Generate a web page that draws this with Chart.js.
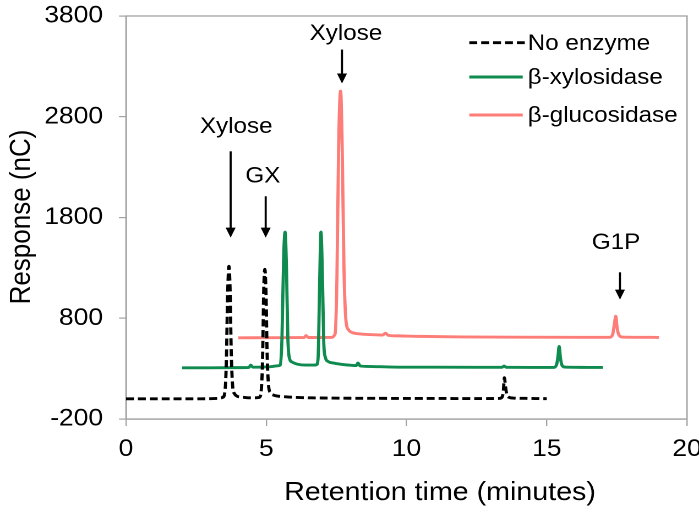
<!DOCTYPE html>
<html><head><meta charset="utf-8">
<script src="https://cdn.jsdelivr.net/npm/chart.js@4.4.0/dist/chart.umd.min.js"></script>
<style>html,body{margin:0;padding:0;background:#fff;overflow:hidden}
#c{display:block;width:699px;height:512px}</style>
</head><body>
<canvas id="c" width="635" height="512" style="width:699px;height:512px"></canvas>
<script>
// ---- data ----
const seriesNames = ['No enzyme', 'β-xylosidase', 'β-glucosidase'];

const noEnzymeTime = [0,0.5,1,1.5,2,2.5,3,3.3,3.45,3.53,3.58,3.62,3.67,3.71,3.75,3.8,3.87,3.95,4.1,4.3,4.55,4.75,4.82,4.87,4.91,4.95,4.99,5.03,5.08,5.15,5.25,5.4,5.7,6.1,6.6,7.2,8,9,10,11,12,12.8,13.3,13.4,13.45,13.49,13.53,13.58,13.66,13.8,14.2,14.6,15];
const noEnzymeResponse = [0,0,0,0,0,0,2,5,15,80,400,1000,1315,1080,480,130,50,28,18,12,10,14,80,420,1080,1285,1060,460,140,60,38,28,20,14,10,8,6,5,4,4,3,3,4,15,70,210,120,40,15,8,5,3,2];

const xylosidaseTime = [2,3,4,4.38,4.45,4.52,4.9,5.2,5.4,5.5,5.56,5.62,5.67,5.72,5.77,5.83,5.92,6.1,6.4,6.7,6.8,6.85,6.9,6.95,7.0,7.05,7.11,7.2,7.4,7.7,8.05,8.2,8.27,8.35,8.6,9.5,11,12.5,13.4,13.48,13.56,14.5,15.25,15.35,15.4,15.44,15.49,15.55,15.65,16,16.5,17];
const xylosidaseResponse = [308,308,310,312,335,314,316,320,328,335,600,1400,1655,1300,600,400,365,345,335,335,340,420,1100,1655,1250,560,410,372,355,342,333,330,355,326,322,316,314,313,313,325,313,312,312,340,420,520,400,330,315,313,312,312];

const glucosidaseTime = [4,5,6,6.35,6.42,6.5,7,7.3,7.45,7.52,7.58,7.65,7.71,7.77,7.84,7.92,8.05,8.3,8.7,9.15,9.25,9.35,9.7,10.5,12,14,16,17.25,17.35,17.41,17.46,17.51,17.58,17.7,18.2,19];
const glucosidaseResponse = [606,607,608,609,628,609,609,610,640,1200,2500,3055,2450,1300,780,690,660,645,638,633,652,630,625,620,615,612,611,611,640,740,820,700,630,613,611,610];

const xTicks = [0, 5, 10, 15, 20];
const yTicks = [-200, 800, 1800, 2800, 3800];
const xTitle = 'Retention time (minutes)';
const yTitle = 'Response (nC)';

// ---- annotations (label text + anchor in data units) ----
const annotationLabels = ['Xylose', 'GX', 'Xylose', 'G1P'];
const annotationLayout = [
  {tx: 3.93, ty: 2700, ax: 3.73, from: 2457, to: 1600},
  {tx: 4.88, ty: 2210, ax: 4.98, from: 2011, to: 1600},
  {tx: 7.84, ty: 3620, ax: 7.70, from: 3467, to: 3130},
  {tx: 17.47, ty: 1550, ax: 17.61, from: 1256, to: 985}
];

// ---- styling ----
const CW = 635;
const SX = 699 / CW;           // horizontal stretch of the reference picture
const GRAY = '#a3a3a3';
const FONT = '"Liberation Sans", Arial, Helvetica, sans-serif';
const colors = ['#000000', '#0f8b4f', '#fd7d78'];
const dashes = [[7.2, 3.6], [], []];

const toXY = (t, v) => t.map((x, i) => ({x: x, y: v[i]}));
const seriesData = [
  toXY(noEnzymeTime, noEnzymeResponse),
  toXY(xylosidaseTime, xylosidaseResponse),
  toXY(glucosidaseTime, glucosidaseResponse)
];

const boxPlugin = {
  id: 'box',
  beforeDatasetsDraw(chart) {
    const {ctx, chartArea: a} = chart;
    ctx.save();
    ctx.strokeStyle = GRAY;
    ctx.lineWidth = 1.3;
    ctx.strokeRect(a.left, a.top, a.right - a.left, a.bottom - a.top);
    ctx.restore();
  }
};

const titlePlugin = {
  id: 'axisTitles',
  afterDraw(chart) {
    const {ctx} = chart;
    ctx.save();
    ctx.fillStyle = '#000';
    ctx.font = '26px ' + FONT;
    ctx.textAlign = 'center';
    ctx.textBaseline = 'middle';
    ctx.fillText(xTitle, 440 / SX, 493);
    ctx.translate(22 / SX, 217);
    ctx.rotate(-Math.PI / 2);
    ctx.fillText(yTitle, 0, 0);
    ctx.restore();
  }
};

const annotationPlugin = {
  id: 'arrows',
  afterDatasetsDraw(chart) {
    const {ctx} = chart;
    const xs = chart.scales.x, ys = chart.scales.y;
    ctx.save();
    ctx.fillStyle = '#000';
    ctx.strokeStyle = '#000';
    ctx.font = '22px ' + FONT;
    ctx.textAlign = 'center';
    ctx.textBaseline = 'middle';
    annotationLayout.forEach((a, i) => {
      ctx.fillText(annotationLabels[i], xs.getPixelForValue(a.tx), ys.getPixelForValue(a.ty));
      const x = xs.getPixelForValue(a.ax);
      const y0 = ys.getPixelForValue(a.from);
      const y1 = ys.getPixelForValue(a.to);
      const hh = 10, hw = 5 / SX;
      ctx.lineWidth = 1.9;
      ctx.beginPath();
      ctx.moveTo(x, y0);
      ctx.lineTo(x, y1 - hh + 1);
      ctx.stroke();
      ctx.beginPath();
      ctx.moveTo(x - hw, y1 - hh);
      ctx.lineTo(x + hw, y1 - hh);
      ctx.lineTo(x, y1);
      ctx.closePath();
      ctx.fill();
    });
    ctx.restore();
  }
};

const legendPlugin = {
  id: 'customLegend',
  afterDraw(chart) {
    const {ctx} = chart;
    const rows = [42.7, 77, 115];
    const x0 = 469.3 / SX, x1 = 522.7 / SX, tx = 527.7 / SX;
    ctx.save();
    ctx.font = '22px ' + FONT;
    ctx.textAlign = 'left';
    ctx.textBaseline = 'middle';
    chart.data.datasets.forEach((ds, i) => {
      ctx.strokeStyle = ds.borderColor;
      ctx.lineWidth = ds.borderWidth;
      ctx.setLineDash(ds.borderDash || []);
      ctx.beginPath();
      ctx.moveTo(x0, rows[i]);
      ctx.lineTo(i === 0 ? x1 + 3 / SX : x1, rows[i]);
      ctx.stroke();
      ctx.setLineDash([]);
      ctx.fillStyle = '#000';
      ctx.fillText(ds.label, tx, rows[i] + 1);
    });
    ctx.restore();
  }
};

new Chart(document.getElementById('c'), {
  type: 'line',
  data: {
    datasets: seriesNames.map((name, i) => ({
      label: name,
      data: seriesData[i],
      borderColor: colors[i],
      backgroundColor: colors[i],
      borderWidth: 2.9,
      borderDash: dashes[i],
      fill: false,
      pointRadius: 0,
      cubicInterpolationMode: 'monotone'
    }))
  },
  options: {
    responsive: false,
    animation: false,
    devicePixelRatio: 2,
    layout: {padding: {top: 16, right: CW - 687 / SX, left: 0, bottom: 0}},
    plugins: {legend: {display: false}, tooltip: {enabled: false}},
    scales: {
      x: {
        type: 'linear', min: 0, max: 20,
        afterBuildTicks: s => { s.ticks = xTicks.map(v => ({value: v})); },
        afterFit: s => { s.height = 93; s.paddingLeft = 0; s.paddingRight = 0; },
        grid: {drawOnChartArea: false, drawTicks: true, tickLength: 7, color: GRAY, lineWidth: 1.2},
        border: {display: true, color: GRAY, width: 1.3},
        ticks: {color: '#000', font: {family: FONT, size: 24}, padding: 9, maxRotation: 0, autoSkip: false,
                callback: v => String(v)},
        title: {display: false}
      },
      y: {
        type: 'linear', min: -200, max: 3800,
        afterBuildTicks: s => { s.ticks = yTicks.map(v => ({value: v})); },
        afterFit: s => { s.width = 126 / SX; s.paddingTop = 0; s.paddingBottom = 0; },
        grid: {drawOnChartArea: false, drawTicks: true, tickLength: 7 / SX, color: GRAY, lineWidth: 1.2},
        border: {display: true, color: GRAY, width: 1.3},
        ticks: {color: '#000', font: {family: FONT, size: 24}, padding: 14.5, autoSkip: false,
                callback: v => String(v)},
        title: {display: false}
      }
    }
  },
  plugins: [boxPlugin, annotationPlugin, legendPlugin, titlePlugin]
});
</script>
</body></html>
